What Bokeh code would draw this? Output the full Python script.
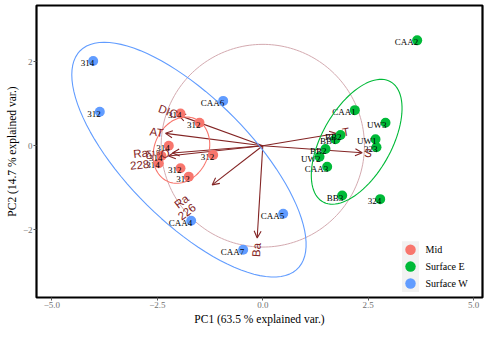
import numpy as np
from bokeh.plotting import figure
from bokeh.models import (ColumnDataSource, Range1d, FixedTicker, Arrow, OpenHead)
from bokeh.core.properties import value
from bokeh.embed import file_html
from bokeh.resources import INLINE

# ---------------- data ----------------
groups = ["Mid", "Surface E", "Surface W"]
group_colors = ["#F8766D", "#00BA38", "#619CFF"]

mid_x = [-1.952, -1.501, -2.229, -2.402, -2.466, -1.176, -1.952, -1.755]
mid_y = [0.768, 0.545, 0.000, -0.244, -0.417, -0.220, -0.536, -0.735]
mid_lab = ["314", "312", "314", "314", "314", "312", "312", "312"]

se_x = [3.661, 2.182, 2.910, 2.673, 2.696, 1.843, 1.724, 1.487, 1.345, 1.527, 1.883, 2.784]
se_y = [2.505, 0.846, 0.545, 0.152, -0.038, 0.254, 0.152, -0.078, -0.261, -0.498, -1.185, -1.270]
se_lab = ["CAA2", "CAA1", "UW3", "UW1", "323", "BB2", "BB1", "BB2", "UW2", "CAA3", "BB3", "324"]

sw_x = [-4.022, -3.865, -0.939, -1.698, -0.465, 0.484]
sw_y = [2.014, 0.806, 1.066, -1.784, -2.472, -1.618]
sw_lab = ["314", "312", "CAA6", "CAA4", "CAA7", "CAA5"]

var_names = ["DIC", "AT", "δ¹⁸O", "Ra\n228", "Ra\n226", "Ba", "T", "S"]
var_x = [-2.000, -2.307, -2.141, -2.236, -1.200, -0.133, 1.748, 2.357]
var_y = [0.727, 0.294, -0.173, -0.244, -0.931, -2.194, 0.289, -0.166]

circle_radius = 2.41
ellipse_prob = 0.68

x_ticks = [-5.0, -2.5, 0.0, 2.5, 5.0]
x_tick_labels = ["\u22125.0", "\u22122.5", "0.0", "2.5", "5.0"]
y_ticks = [-2, 0, 2]
y_tick_labels = ["\u22122", "0", "2"]

xlab = "PC1 (63.5 % explained var.)"
ylab = "PC2 (14.7 % explained var.)"

# ---------------- layout / style ----------------
W, H = 484, 327
MB_L, MB_R, MB_T, MB_B = 36, 2, 5, 29
FW = W - MB_L - MB_R
FH = H - MB_T - MB_B
X0, X1 = -5.366, 5.210
Y0, Y1 = -3.609, 3.334
label_gap = [1, 2, 3, 20, 27, 5, 6, 2]

p = figure(width=W, height=H, output_backend="svg", toolbar_location=None,
           x_range=Range1d(X0, X1), y_range=Range1d(Y0, Y1),
           min_border_left=MB_L, min_border_right=MB_R,
           min_border_top=MB_T, min_border_bottom=MB_B)
p.grid.visible = False
p.background_fill_color = "white"
p.border_fill_color = "white"
p.outline_line_color = "black"
p.outline_line_width = 2.2

for ax in (p.xaxis[0], p.yaxis[0]):
    ax.axis_line_color = None
    ax.major_tick_line_color = "#555555"
    ax.major_tick_out = 3
    ax.major_tick_in = 0
    ax.minor_tick_line_color = None
    ax.major_label_text_font = "Liberation Serif"
    ax.major_label_text_font_size = "9px"
    ax.major_label_text_color = "#707070"
    ax.major_label_standoff = 1
    ax.axis_label_text_font = "Liberation Serif"
    ax.axis_label_text_font_size = "11.5px"
    ax.axis_label_text_font_style = "normal"
    ax.axis_label_text_color = "black"
    ax.axis_label_standoff = 2

p.xaxis.ticker = FixedTicker(ticks=x_ticks)
p.xaxis.major_label_overrides = dict(zip(x_ticks, x_tick_labels))
p.yaxis.ticker = FixedTicker(ticks=y_ticks)
p.yaxis.major_label_overrides = dict(zip(y_ticks, y_tick_labels))
p.xaxis.axis_label = xlab
p.yaxis.axis_label = ylab

# correlation circle
t = np.linspace(0, 2 * np.pi, 200)
p.line(circle_radius * np.cos(t), circle_radius * np.sin(t),
       line_color="#D4AAB0", line_width=1, level="underlay")

# arrows
arrow_color = "#832424"
asrc = ColumnDataSource(dict(x0=[0.0] * len(var_x), y0=[0.0] * len(var_y), x1=var_x, y1=var_y))
p.add_layout(Arrow(source=asrc, x_start="x0", y_start="y0", x_end="x1", y_end="y1",
                   line_color=arrow_color, line_width=1.1, level="underlay",
                   end=OpenHead(size=7, line_color=arrow_color, line_width=1.1)))

# points and labels
all_sets = [(mid_x, mid_y, mid_lab), (se_x, se_y, se_lab), (sw_x, sw_y, sw_lab)]
for (xs, ys, labs), col in zip(all_sets, group_colors):
    p.scatter(xs, ys, size=10, fill_color=col, line_color=None)
for (xs, ys, labs), col in zip(all_sets, group_colors):
    p.text(xs, ys, text=labs, text_align="right", text_baseline="middle",
           x_offset=1, y_offset=2, text_font=value("Liberation Serif"),
           text_font_size="9px", text_color="black")

# ellipses (ggbiplot style, normal-theory, prob=0.68)
ed = np.sqrt(-2 * np.log(1 - ellipse_prob))
theta = np.linspace(-np.pi, np.pi, 100)
circ = np.column_stack([np.cos(theta), np.sin(theta)])
for (xs, ys, labs), col in zip(all_sets, group_colors):
    xy = np.column_stack([xs, ys])
    sigma = np.cov(xy.T)
    R = np.linalg.cholesky(sigma).T
    ell = circ @ R * ed + xy.mean(axis=0)
    p.line(ell[:, 0], ell[:, 1], line_color=col, line_width=1.1)

# variable names
sx_scale = FW / (X1 - X0)
sy_scale = FH / (Y1 - Y0)
vx = np.array(var_x); vy = np.array(var_y)
ang = np.degrees(np.arctan(vy / vx))
dxs = vx * sx_scale; dys = -vy * sy_scale
nrm = np.hypot(dxs, dys)
gap = np.array(label_gap, dtype=float)
xoff = gap * dxs / nrm
yoff = gap * dys / nrm
aligns = ["right" if v < 0 else "left" for v in var_x]
vsrc = ColumnDataSource(dict(x=var_x, y=var_y, t=var_names, a=ang, xo=xoff, yo=yoff, al=aligns))
p.text("x", "y", text="t", angle="a", angle_units="deg", x_offset="xo", y_offset="yo",
       text_align="al", text_baseline="middle", source=vsrc,
       text_font=value("Liberation Sans"), text_font_size="11.5px",
       text_color=arrow_color, text_line_height=0.95)

# legend (drawn manually, ggplot style keys)
def px2x(px):
    return X0 + px / FW * (X1 - X0)

def py2y(py):
    return Y1 - py / FH * (Y1 - Y0)

key_cx = 410 - MB_L
row_top = 245
row_h = 17
kx = [px2x(key_cx)] * 3
ky = [py2y(row_top + i * row_h) for i in range(3)]
p.rect(kx, ky, width=row_h, height=row_h, width_units="screen", height_units="screen",
       fill_color="#F2F2F2", line_color=None)
p.scatter(kx, ky, size=10.5, fill_color=group_colors, line_color=None)
p.text([px2x(key_cx + 15)] * 3, ky, text=groups, text_align="left", text_baseline="middle",
       text_font=value("Liberation Serif"), text_font_size="10px", text_color="black")

open("out.html", "w").write(file_html(p, INLINE))
